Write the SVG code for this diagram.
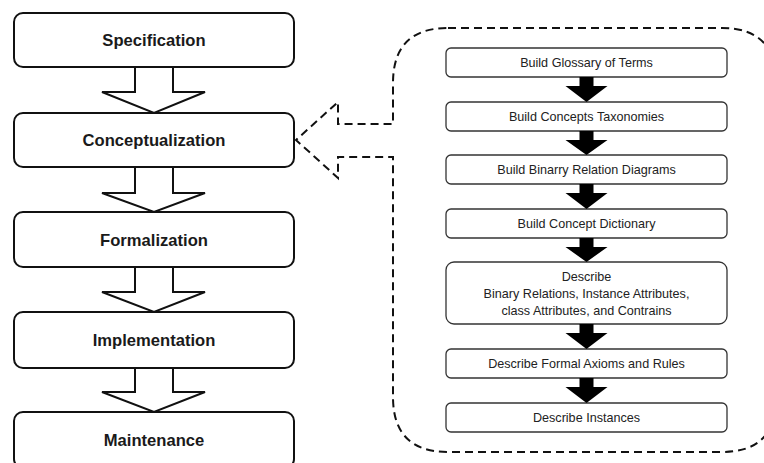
<svg xmlns="http://www.w3.org/2000/svg" width="764" height="463" viewBox="0 0 764 463">
  <style>
    .phase rect { fill: #fff; stroke: #111; stroke-width: 2; }
    .phase text { font-family: "Liberation Sans", Arial, sans-serif; font-weight: bold; font-size: 16.6px; fill: #1a1a1a; text-anchor: middle; }
    .step rect { fill: #fff; stroke: #333; stroke-width: 1.3; }
    .step text { font-family: "Liberation Sans", Arial, sans-serif; font-size: 12.6px; fill: #222; text-anchor: middle; }
    .flow { fill: #fff; stroke: #111; stroke-width: 2; stroke-linejoin: miter; }
    .down { fill: #000; stroke: none; }
    .callout { fill: none; stroke: #111; stroke-width: 2; stroke-dasharray: 8 5; }
  </style>

  <!-- Methodology phases -->
  <g id="specification" class="phase">
    <rect x="14" y="13" width="280" height="54" rx="9"/>
    <text x="154" y="46">Specification</text>
  </g>
  <g id="conceptualization" class="phase">
    <rect x="14" y="113" width="280" height="54" rx="9"/>
    <text x="154" y="146">Conceptualization</text>
  </g>
  <g id="formalization" class="phase">
    <rect x="14" y="212" width="280" height="55" rx="9"/>
    <text x="154" y="246">Formalization</text>
  </g>
  <g id="implementation" class="phase">
    <rect x="14" y="312" width="280" height="56" rx="9"/>
    <text x="154" y="346">Implementation</text>
  </g>
  <g id="maintenance" class="phase">
    <rect x="14" y="412" width="280" height="56" rx="9"/>
    <text x="154" y="446">Maintenance</text>
  </g>

  <!-- Conceptualization detail: dashed callout -->
  <g id="conceptualization-detail">
    <path class="callout" d="M 448 28 L 722 28 Q 776 28 776 82 L 776 398 Q 776 452 722 452 L 448 452 Q 393 452 393 397 L 393 157 L 338 157 L 338 178 L 296 140 L 338 102 L 338 124 L 393 124 L 393 83 Q 393 28 448 28 Z"/>
  </g>

  <!-- Conceptualization tasks -->
  <g id="glossary" class="step">
    <rect x="446" y="48" width="281" height="29" rx="5"/>
    <text x="586.5" y="67">Build Glossary of Terms</text>
  </g>
  <g id="taxonomies" class="step">
    <rect x="446" y="102" width="281" height="29" rx="5"/>
    <text x="586.5" y="121">Build Concepts Taxonomies</text>
  </g>
  <g id="binary-relations" class="step">
    <rect x="446" y="155" width="281" height="29" rx="5"/>
    <text x="586.5" y="174">Build Binarry Relation Diagrams</text>
  </g>
  <g id="dictionary" class="step">
    <rect x="446" y="209" width="281" height="29" rx="5"/>
    <text x="586.5" y="228">Build Concept Dictionary</text>
  </g>
  <g id="describe-attributes" class="step">
    <rect x="446" y="262" width="281" height="62" rx="8"/>
    <text x="586.5" y="281">Describe</text>
    <text x="586.5" y="298">Binary Relations, Instance Attributes,</text>
    <text x="586.5" y="315">class Attributes, and Contrains</text>
  </g>
  <g id="axioms" class="step">
    <rect x="446" y="349" width="281" height="29" rx="5"/>
    <text x="586.5" y="368">Describe Formal Axioms and Rules</text>
  </g>
  <g id="instances" class="step">
    <rect x="446" y="403" width="281" height="29" rx="5"/>
    <text x="586.5" y="422">Describe Instances</text>
  </g>

  <!-- Connectors -->
  <g id="connectors">
    <!-- hollow block arrows between phases -->
    <path class="flow" d="M 135 67 L 173 67 L 173 92 L 205 92 L 154 113 L 102 92 L 135 92 Z"/>
    <path class="flow" d="M 135 167 L 173 167 L 173 193 L 205 193 L 154 212 L 102 193 L 135 193 Z"/>
    <path class="flow" d="M 135 267 L 173 267 L 173 292 L 205 292 L 154 312 L 102 292 L 135 292 Z"/>
    <path class="flow" d="M 135 368 L 173 368 L 173 392 L 205 392 L 154 412 L 102 392 L 135 392 Z"/>

    <!-- solid arrows between tasks -->
    <path class="down" d="M 579.5 77 L 593.5 77 L 593.5 86 L 607.5 86 L 586.5 102 L 565.5 86 L 579.5 86 Z"/>
    <path class="down" d="M 579.5 131 L 593.5 131 L 593.5 140 L 607.5 140 L 586.5 155 L 565.5 140 L 579.5 140 Z"/>
    <path class="down" d="M 579.5 184 L 593.5 184 L 593.5 193 L 607.5 193 L 586.5 209 L 565.5 193 L 579.5 193 Z"/>
    <path class="down" d="M 579.5 238 L 593.5 238 L 593.5 247 L 607.5 247 L 586.5 262 L 565.5 247 L 579.5 247 Z"/>
    <path class="down" d="M 579.5 324 L 593.5 324 L 593.5 333 L 607.5 333 L 586.5 349 L 565.5 333 L 579.5 333 Z"/>
    <path class="down" d="M 579.5 378 L 593.5 378 L 593.5 387 L 607.5 387 L 586.5 403 L 565.5 387 L 579.5 387 Z"/>
  </g>
</svg>
